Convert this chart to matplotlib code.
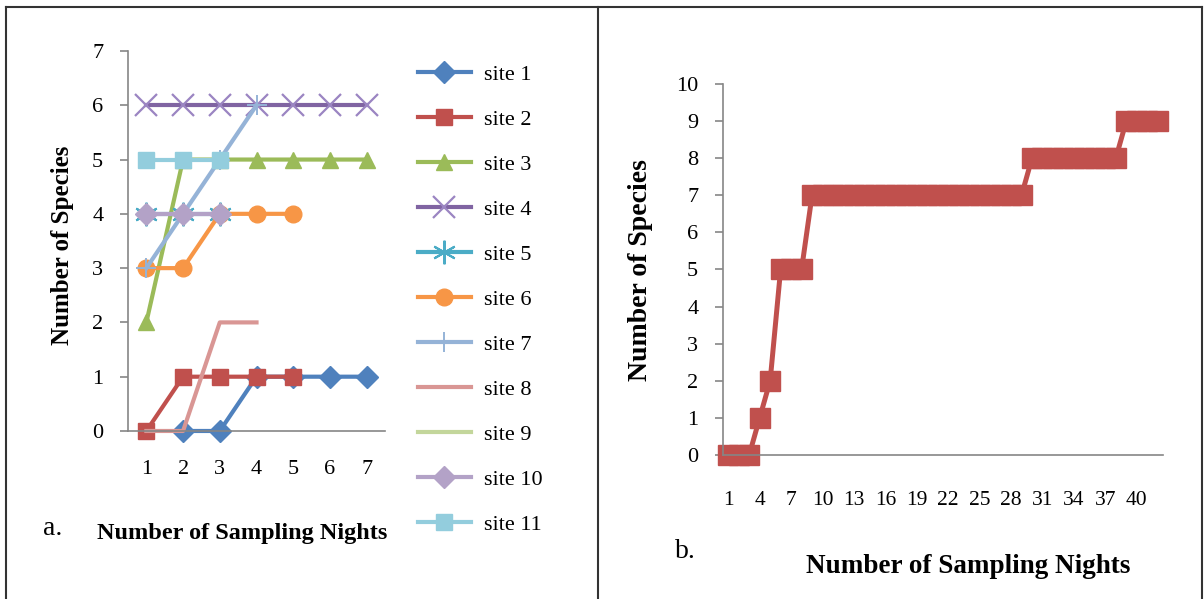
import numpy as np
import matplotlib.pyplot as plt
from matplotlib.lines import Line2D

plt.rcParams['font.family'] = ['Liberation Serif', 'DejaVu Serif']

# panel a: cumulative species per site over sampling nights
nights_a = [1, 2, 3, 4, 5, 6, 7]
site1 = [np.nan, 0, 0, 1, 1, 1, 1]
site2 = [0, 1, 1, 1, 1]
site3 = [2, 5, 5, 5, 5, 5, 5]
site4 = [6, 6, 6, 6, 6, 6, 6]
site5 = [4, 4, 4]
site6 = [3, 3, 4, 4, 4]
site7 = [3, 4, 5, 6]
site8 = [0, 0, 2, 2]
site9 = []
site10 = [4, 4, 4]
site11 = [5, 5, 5]
site_names = ["site 1", "site 2", "site 3", "site 4", "site 5", "site 6",
              "site 7", "site 8", "site 9", "site 10", "site 11"]

# panel b: all sites pooled
nights_b = list(range(1, 43))
species_b = [0, 0, 0, 1, 2, 5, 5, 5,
             7, 7, 7, 7, 7, 7, 7, 7, 7, 7, 7, 7, 7, 7, 7, 7, 7, 7, 7, 7, 7,
             8, 8, 8, 8, 8, 8, 8, 8, 8,
             9, 9, 9, 9]

series = [site1, site2, site3, site4, site5, site6, site7, site8, site9, site10, site11]
colors = ['#4F81BD', '#C0504D', '#9BBB59', '#8064A2', '#4BACC6', '#F79646',
          '#95B3D7', '#D99694', '#C3D69B', '#B3A2C7', '#93CDDD']
# marker, size, edge width
markers = [('D', 11, 1), ('s', 12, 1), ('^', 12, 1), ('x', 16, 1.6),
           ((6, 2, 0), 17, 1.5), ('o', 12, 1), ('+', 14, 1.4), (None, 0, 0),
           (None, 0, 0), ('D', 11, 1), ('s', 12, 1)]
edge_colors = ['#4F81BD', '#C0504D', '#9BBB59', '#9B85C2', '#4BACC6', '#F79646',
               '#95B3D7', '#D99694', '#C3D69B', '#B3A2C7', '#93CDDD']

spine_col = '#868686'

fig = plt.figure(figsize=(12.04, 5.99), dpi=100)

# ---- panel a
ax1 = fig.add_axes([0.1063, 0.2805, 0.2135, 0.6344])
for vals, name, c, (mk, ms, mew), ec in zip(series, site_names, colors, markers, edge_colors):
    x = nights_a[:len(vals)]
    ax1.plot(x, vals, color=c, lw=3, marker=mk, markersize=ms, mew=mew,
             mec=ec, mfc=ec, label=name, clip_on=False)

ax1.set_xlim(0.5, 7.5)
ax1.set_ylim(0, 7)
ax1.set_xticks(nights_a)
ax1.set_yticks(range(0, 8))

# ---- panel b
ax2 = fig.add_axes([0.6005, 0.2404, 0.3654, 0.6194])
ax2.plot(nights_b, species_b, color='#C0504D', lw=3.6, marker='s', markersize=15,
         mec='#C0504D', mfc='#C0504D', clip_on=False)
ax2.set_xlim(0.5, 42.5)
ax2.set_ylim(0, 10)
ax2.set_xticks(nights_b[::3])
ax2.set_yticks(range(0, 11))

for ax, xpad in [(ax1, 21), (ax2, 26)]:
    for s in ['top', 'right']:
        ax.spines[s].set_visible(False)
    for s in ['left', 'bottom']:
        ax.spines[s].set_color(spine_col)
        ax.spines[s].set_linewidth(1.2)
    ax.tick_params(axis='y', length=5.8, width=1.2, color=spine_col, pad=12,
                   labelsize=16)
    ax.tick_params(axis='x', length=0, pad=xpad, labelsize=16)

ax2.tick_params(axis='x', labelsize=15.5)

# legend for panel a
fig.legend(*ax1.get_legend_handles_labels(), loc='upper left',
           bbox_to_anchor=(0.347, 0.892), frameon=False, fontsize=16,
           borderpad=0, borderaxespad=0, handlelength=2.4, handletextpad=0.6,
           labelspacing=1.1)

# axis titles and panel letters
fig.text(0.052, 0.591, "Number of Species", rotation=90, ha='center', va='center',
         fontsize=18, fontweight='bold')
fig.text(0.036, 0.118, "a.", fontsize=20, ha='left', va='center')
fig.text(0.201, 0.110, "Number of Sampling Nights", ha='center', va='center',
         fontsize=17.5, fontweight='bold')

fig.text(0.532, 0.549, "Number of Species", rotation=90, ha='center', va='center',
         fontsize=20, fontweight='bold')
fig.text(0.561, 0.080, "b.", fontsize=20, ha='left', va='center')
fig.text(0.804, 0.055, "Number of Sampling Nights", ha='center', va='center',
         fontsize=19.5, fontweight='bold')

# outer frame
frame_kw = dict(color='#333333', lw=1.5, transform=fig.transFigure)
fig.add_artist(Line2D([0.005, 0.998], [0.988, 0.988], **frame_kw))
fig.add_artist(Line2D([0.005, 0.005], [0.0, 0.988], **frame_kw))
fig.add_artist(Line2D([0.497, 0.497], [0.0, 0.988], **frame_kw))
fig.add_artist(Line2D([0.998, 0.998], [0.0, 0.988], **frame_kw))

fig.savefig("out.png", dpi=100)
